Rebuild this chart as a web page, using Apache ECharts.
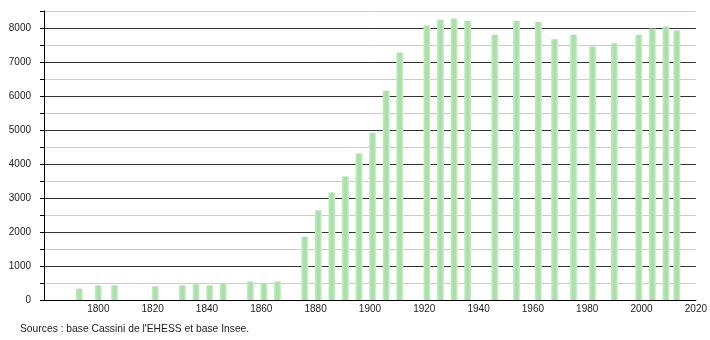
<!DOCTYPE html>
<html>
<head>
<meta charset="utf-8">
<script src="https://cdn.jsdelivr.net/npm/echarts@6/dist/echarts.min.js"></script>
<style>html,body{margin:0;padding:0;background:#fff;}#c{width:710px;height:340px;}</style>
</head>
<body>
<div id="c"></div>
<script>
const years = [1793,1800,1806,1821,1831,1836,1841,1846,1856,1861,1866,1876,1881,1886,1891,1896,1901,1906,1911,1921,1926,1931,1936,1946,1954,1962,1968,1975,1982,1990,1999,2004,2009,2013];
const population = [335,430,430,400,430,460,430,500,545,500,545,1860,2635,3165,3635,4310,4920,6156,7282,8070,8244,8274,8215,7803,8215,8180,7670,7800,7455,7552,7803,7985,8045,7930];
const sourceText = "Sources : base Cassini de l'EHESS et base Insee.";

const chart = echarts.init(document.getElementById('c'), null, {renderer:'canvas'});
const font = 'Liberation Sans, Arial, sans-serif';
chart.setOption({
  animation: false,
  backgroundColor: '#fff',
  grid: {left: 44, right: 10, top: 11, bottom: 40, containLabel: false},
  xAxis: {
    type: 'value', min: 1780, max: 2020, interval: 20,
    axisLine: {show: true, lineStyle: {color: '#000', width: 1}},
    axisTick: {show: false},
    splitLine: {show: false},
    axisLabel: {color: '#222', fontFamily: font, fontSize: 10, margin: 4,
      formatter: v => v === 1780 ? '' : String(v)}
  },
  yAxis: {
    type: 'value', min: 0, max: 8500, interval: 500,
    axisLine: {show: true, lineStyle: {color: '#000', width: 1}},
    axisTick: {show: true, length: 4, lineStyle: {color: '#000'}},
    splitLine: {show: true, lineStyle: {color: ['#333', '#ccc'], width: 1}},
    axisLabel: {color: '#222', fontFamily: font, fontSize: 10, margin: 13,
      formatter: v => (v % 1000 === 0) ? String(v) : ''}
  },
  series: [{
    type: 'bar',
    data: years.map((y, i) => [y, population[i]]),
    barWidth: 7,
    itemStyle: {
      color: new echarts.graphic.LinearGradient(0, 0, 1, 0, [
        {offset: 0, color: '#c4eac4'},
        {offset: 0.4, color: '#a8dfa8'},
        {offset: 0.7, color: '#abe0ab'},
        {offset: 1, color: '#d6f1d6'}
      ])
    }
  }],
  graphic: [{
    type: 'text', left: 20, top: 324,
    style: {text: sourceText, fill: '#222', font: '10.3px ' + font}
  }]
});
</script>
</body>
</html>
